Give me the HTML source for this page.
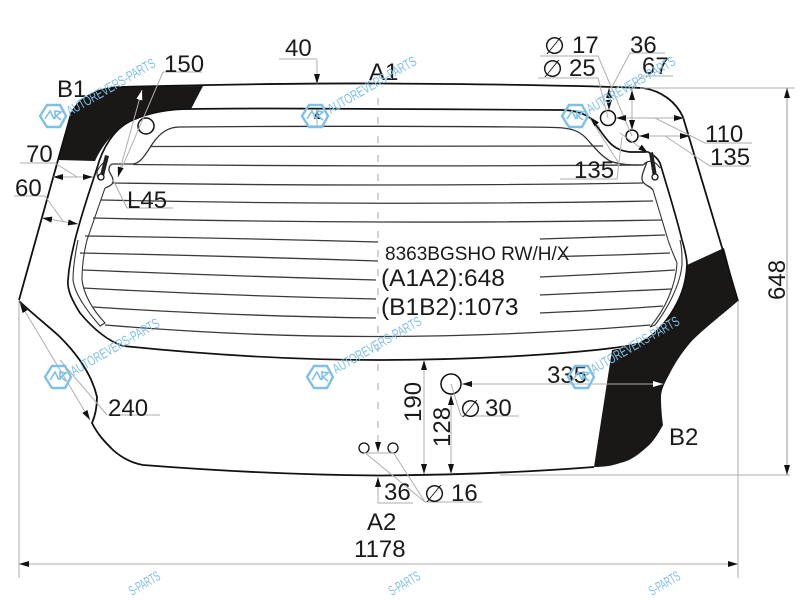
<!DOCTYPE html>
<html><head><meta charset="utf-8"><style>
html,body{margin:0;padding:0;background:#fff;width:800px;height:600px;overflow:hidden}
svg{display:block}
text{font-family:"Liberation Sans",sans-serif;font-size:24px;fill:#1a1a1a}
.g{stroke:#aeaeae;stroke-width:1;fill:none}
.h{stroke:#3a3a3a;stroke-width:1.3;fill:none}
text.w{font-size:14px;fill:#7fc0e8;font-family:"Liberation Sans",sans-serif}
.hx{fill:none;stroke:#7fc0e8;stroke-width:2.4}
text.d{font-family:"DejaVu Sans",sans-serif;font-size:24px}
</style></head><body>
<svg width="800" height="600" viewBox="0 0 800 600" xmlns="http://www.w3.org/2000/svg">
<defs>
<marker id="a" viewBox="0 0 10 6" refX="10" refY="3" markerWidth="10" markerHeight="6" orient="auto-start-reverse" markerUnits="userSpaceOnUse"><path d="M0 0L10 3L0 6z" fill="#111"/></marker>
<marker id="aw" viewBox="0 0 10 6" refX="10" refY="3" markerWidth="10" markerHeight="6" orient="auto-start-reverse" markerUnits="userSpaceOnUse"><path d="M0 0L10 3L0 6z" fill="#fff"/></marker>
<g id="logo"><path class="hx" d="M-13 0L-6 -11H7L13 0L7 11H-6Z"/><path d="M-8 3L-3 -5L1 3M2 3L2 -5L8 -4L3 0L8 4" fill="none" stroke="#7fc0e8" stroke-width="1.6"/></g>
</defs>

<!-- black areas -->
<path fill="#1a1717" d="M58 160L71 114C78 99 96 88 120 87L203 86L191 109C170 109 148 112 133 120C117 128 103 143 95 161Z"/>
<path fill="#1a1717" d="M724 248L738 301C718 318 700 332 690 343C680 355 674 365 670 373C665 382 661 390 661 397C661 408 662 418 663 425C658 434 653 442 647 447C638 455 630 461 620 463C612 466 603 467 594 467L612 350C622 348 632 346 640 343C652 337 662 327 670 315C680 300 686 285 687 265Z"/>

<!-- outer outline -->
<path fill="none" stroke="#111" stroke-width="1.8" d="M19 300L58 160L71 114C78 99 96 88 120 87C200 85 300 83 380 83.500C470 84 560 85 643 88C662 91 676 102 683 117L738 301"/>
<path fill="none" stroke="#111" stroke-width="1.8" d="M19 301C34 315 48 326 60 337C78 355 92 375 97 397C97 408 95 416 92 423C98 435 105 442 113 450C122 458 132 463 143 465C220 471 300 475 378 475.500C450 475 530 472 594 467"/>

<!-- glass inner outline -->
<path fill="none" stroke="#111" stroke-width="1.700" d="M191 109C260 108 320 108.500 380 109C440 109 510 110 560 110C572 110 582 112 590 118C598 126 603 136 610 143C616 149 622 151 630 152L648 152C654 155 658 159 660 163C668 190 676 215 682 240C685 250 687 258 687 265C686 285 680 300 670 315C662 327 652 337 640 343C620 350 500 360 380 360C300 360 220 356 123 346C105 340 90 325 80 313C72 300 67 290 68 280C69 265 72 253 75 240C82 212 90 190 97 168C102 150 113 128 133 120C150 112 170 109 191 109"/>
<!-- band inner lines -->
<path fill="none" stroke="#333" stroke-width="1.100" d="M105 188L87 240C84 252 82 265 82 280C84 295 93 310 105 323L100 326C88 312 75 295 73 280C73 265 76 250 78 240"/>
<path fill="none" stroke="#333" stroke-width="1.100" d="M653 190L668 240C672 252 676 260 677 263C676 285 665 310 650 327L655 325C668 308 680 285 682 265C682 255 682 248 680 240"/>

<!-- heater boundary with hooks -->
<path fill="none" stroke="#333" stroke-width="1.300" d="M105 188C110 186 114 184 113 180C113 176 108 172 109 169C109 166 111 164 113 164H133C141 163 145 155 153 143C160 133 168 127 180 127C280 126 470 126 555 127.500C570 128 578 130 586 138C594 147 600 155 610 161C620 165 632 165 643 165C646 163 646 162 647 162C644 170 640 178 643 182C646 186 650 186 653 190"/>
<path fill="none" stroke="#333" stroke-width="1.100" d="M103 163C99 167 97 170 97 173C97 176 98 179 100 180M647 162C652 160 656 162 660 168"/>

<!-- heater lines -->
<path class="h" d="M150 146.500Q380 147 603 146M133 164.500Q380 167 643 165M113 183Q380 187 643 183M101 200Q380 206 653 201M93 218Q380 225 662 220"/>
<path class="h" d="M85 236Q230 238 378 242M540 239Q610 237 665 235"/>
<path class="h" d="M80 253Q230 256 378 261M560 256.500Q620 255 670 253"/>
<path class="h" d="M83 270Q230 276 376 280M540 277Q610 274 675 270"/>
<path class="h" d="M83 288Q230 296 376 299M540 295Q610 292 672 289"/>
<path class="h" d="M93 307Q230 316 376 318M540 313Q610 310 663 306"/>
<path class="h" d="M105 325Q250 337 380 336.500Q520 336 650 325"/>

<!-- fixings -->
<path fill="#222" d="M105 155L109 156L104 176L100 175Z"/><circle cx="101" cy="177" r="3" fill="#fff" stroke="#111" stroke-width="1.300"/>
<path fill="#222" d="M649 153L653 152L657 176L653 177Z"/><circle cx="655" cy="177" r="3" fill="#fff" stroke="#111" stroke-width="1.300"/>

<!-- center dashed -->
<path d="M378 98V450" stroke="#b5b5b5" stroke-width="1.200" stroke-dasharray="7 12" fill="none"/>

<!-- circles -->
<circle cx="146" cy="126" r="8" fill="#fff" stroke="#111" stroke-width="1.500"/>
<circle cx="608" cy="118" r="7.500" fill="#fff" stroke="#111" stroke-width="1.500"/>
<circle cx="632" cy="136" r="6" fill="#fff" stroke="#111" stroke-width="1.500"/>
<circle cx="451" cy="384" r="10" fill="#fff" stroke="#111" stroke-width="1.500"/>
<circle cx="364" cy="448" r="5" fill="#fff" stroke="#111" stroke-width="1.300"/>
<circle cx="393" cy="448" r="5" fill="#fff" stroke="#111" stroke-width="1.300"/>

<!-- dimension and extension lines -->
<path class="g" d="M640 88H795M500 475H790M738 301V578M19 301V578M279 59H317M163 72H202M127 208H173M20 163H55M14 196H45M108 415H160"/>
<path class="g" d="M540 56H598L632 136M538 78H598L608 118M665 53H630L612 87M673 76H642L632 88M752 143H705L655 118M751 166H710L665 136M560 179H617L622 137M620 165L590 118M620 133L648 153"/>
<path class="g" d="M55 163L77 177M45 196L63 221M163 72L118 177M127 208L113 180M107 415L60 360"/>
<path class="g" d="M461 416H519M451 384L461 416M413 503H378M364 453H393M364 452L425 502M393 452L425 502H482"/>

<g stroke="#aeaeae" stroke-width="1" fill="none">
<path d="M787 88V475" marker-start="url(#a)" marker-end="url(#a)" stroke="#999"/>
<path d="M19 564H738" marker-start="url(#a)" marker-end="url(#a)"/>
<path d="M53 177H93" marker-start="url(#a)" marker-end="url(#a)"/>
<path d="M42 218L78 224" marker-start="url(#a)" marker-end="url(#a)"/>
<path d="M20 303L90 420" marker-start="url(#a)" marker-end="url(#a)"/>
<path d="M142 90L118 177" marker-start="url(#aw)" marker-end="url(#a)"/>
<path d="M609 88V110" marker-start="url(#a)" marker-end="url(#a)"/>
<path d="M632 90V130" marker-start="url(#a)" marker-end="url(#a)"/>
<path d="M616 118H684" marker-start="url(#a)" marker-end="url(#a)"/>
<path d="M639 136H690" marker-start="url(#a)" marker-end="url(#a)"/>
<path d="M424 360V474" marker-start="url(#a)" marker-end="url(#a)"/>
<path d="M451 395V474" marker-start="url(#a)" marker-end="url(#a)"/>
<path d="M462 384H663" marker-start="url(#a)" marker-end="url(#aw)"/>
</g>
<path d="M317 60V84" class="g" marker-end="url(#a)"/>
<path d="M317 125V109" class="g" marker-end="url(#a)"/>
<path d="M378 435V452" class="g" marker-end="url(#a)"/>
<path d="M378 503V477" class="g" marker-end="url(#a)"/>
<path d="M600 128L590 117" class="g" marker-end="url(#a)"/>
<path d="M640 147L648 153" class="g" marker-end="url(#a)"/>

<!-- labels -->
<text x="285" y="56">40</text>
<text x="369" y="80">A1</text>
<text x="57" y="97">B1</text>
<text x="164" y="72">150</text>
<text x="26" y="162">70</text>
<text x="15" y="196">60</text>
<text x="127" y="208">L45</text>
<text x="108" y="416">240</text>
<text x="630" y="53">36</text>
<text x="642" y="74">67</text>
<text x="705" y="142">110</text>
<text x="710" y="165">135</text>
<text x="574" y="178">135</text>
<text class="d" x="544" y="54">∅</text><text x="572" y="53">17</text>
<text class="d" x="542" y="77">∅</text><text x="569" y="76">25</text>
<text class="d" x="460" y="417">∅</text><text x="485" y="416">30</text>
<text class="d" x="424" y="502">∅</text><text x="451" y="501">16</text>
<text x="547" y="383">335</text>
<text x="669" y="445">B2</text>
<text x="384" y="500">36</text>
<text x="367" y="530">A2</text>
<text x="354" y="557">1178</text>
<text transform="translate(785,300) rotate(-90)">648</text>
<text transform="translate(421,422) rotate(-90)">190</text>
<text transform="translate(450,447) rotate(-90)">128</text>
<text x="385" y="260" style="font-size:19px">8363BGSHO RW/H/X</text>
<text x="381" y="286" style="font-size:24.500px">(A1A2):648</text>
<text x="381" y="315" style="font-size:24.500px">(B1B2):1073</text>

<!-- watermarks -->
<g>
<use href="#logo" x="53" y="116"/><text class="w" textLength="100" lengthAdjust="spacingAndGlyphs" transform="translate(70,116) rotate(-30)">AUTOREVERS-PARTS</text>
<use href="#logo" x="315" y="116"/><text class="w" textLength="100" lengthAdjust="spacingAndGlyphs" transform="translate(331,114) rotate(-30)">AUTOREVERS-PARTS</text>
<use href="#logo" x="575" y="116"/><text class="w" textLength="100" lengthAdjust="spacingAndGlyphs" transform="translate(590,114) rotate(-30)">AUTOREVERS-PARTS</text>
<use href="#logo" x="58" y="377"/><text class="w" textLength="100" lengthAdjust="spacingAndGlyphs" transform="translate(74,376) rotate(-30)">AUTOREVERS-PARTS</text>
<use href="#logo" x="320" y="377"/><text class="w" textLength="100" lengthAdjust="spacingAndGlyphs" transform="translate(336,374) rotate(-30)">AUTOREVERS-PARTS</text>
<use href="#logo" x="581" y="377"/><text class="w" textLength="100" lengthAdjust="spacingAndGlyphs" transform="translate(594,374) rotate(-30)">AUTOREVERS-PARTS</text>
<text class="w" textLength="34" lengthAdjust="spacingAndGlyphs" transform="translate(132,596) rotate(-30)">S-PARTS</text>
<text class="w" textLength="34" lengthAdjust="spacingAndGlyphs" transform="translate(392,596) rotate(-30)">S-PARTS</text>
<text class="w" textLength="34" lengthAdjust="spacingAndGlyphs" transform="translate(652,596) rotate(-30)">S-PARTS</text>
</g>
</svg>
</body></html>
